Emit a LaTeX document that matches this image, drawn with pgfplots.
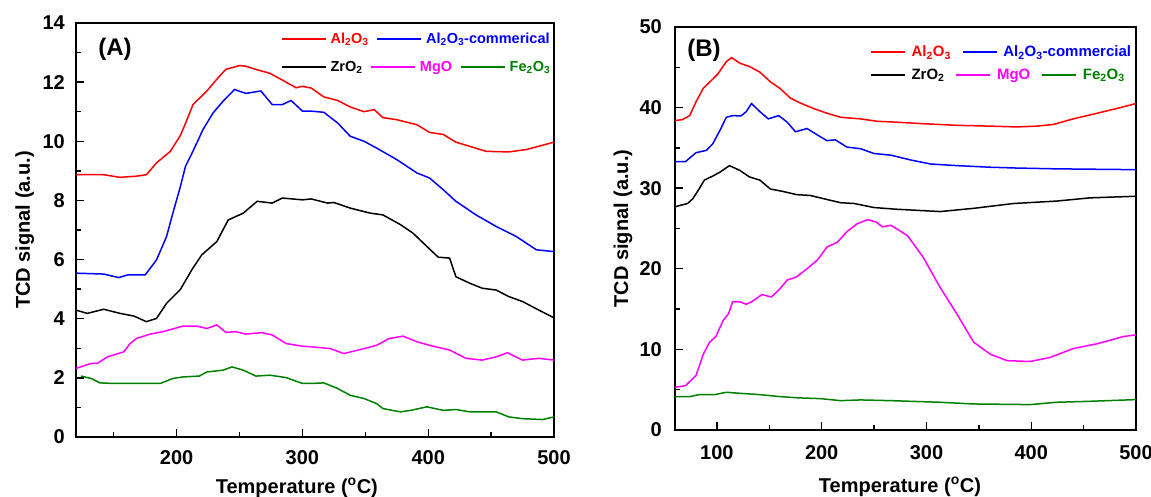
\documentclass[border=0pt]{standalone}
\usepackage{fontspec}
\setmainfont{Liberation Sans}
\usepackage{pgfplots}
\pgfplotsset{compat=1.18}
\newcommand\fs[1]{\fontsize{#1}{#1}\selectfont}
\definecolor{cred}{RGB}{255,0,0}
\definecolor{cblue}{RGB}{0,0,255}
\definecolor{cmag}{RGB}{255,0,255}
\definecolor{cgreen}{RGB}{0,128,0}
\pgfplotsset{
  base/.style={
    scale only axis,
    axis line style={line width=1.6pt},
    tick align=inside,
    tick pos=left,
    major tick length=8pt,
    minor tick length=5pt,
    tick style={black, line width=1.4pt},
    /pgf/number format/assume math mode=true,
    tick label style={font=\fs{20}\bfseries, inner sep=0pt},
    every axis plot/.append style={line width=1.5pt, mark=none},
  },
  legA/.style={
    legend columns=-1,
    legend cell align=left,
    legend image code/.code={\draw[##1,line width=1.5pt] (0pt,0pt) -- (44pt,0pt);},
    legend style={draw=none, fill=none, inner sep=0pt, outer sep=0pt, font=\fs{14.5}\bfseries,
      nodes={inner sep=1pt},
      /tikz/every odd column/.append style={column sep=3pt},
      /tikz/every even column/.append style={column sep=7pt}},
  },
  legB/.style={
    legend columns=-1,
    legend cell align=left,
    legend image code/.code={\draw[##1,line width=1.5pt] (0pt,0pt) -- (34pt,0pt);},
    legend style={draw=none, fill=none, inner sep=0pt, outer sep=0pt, font=\fs{15}\bfseries,
      nodes={inner sep=1pt},
      /tikz/every odd column/.append style={column sep=5pt},
      /tikz/every even column/.append style={column sep=10pt}},
  },
}
\begin{document}
\begin{tikzpicture}
\useasboundingbox (0,0) rectangle (1151pt,497pt);
% ---------------- Panel A ----------------
\begin{axis}[base, at={(76pt,60pt)}, anchor=south west, width=478pt, height=414pt,
  xmin=120, xmax=500, ymin=0, ymax=14,
  xtick={200,300,400,500}, minor xtick={150,250,350,450},
  ytick={0,2,...,14}, minor ytick={1,3,...,13},
  xticklabel shift=13pt, yticklabel shift=11pt,
  xlabel={Temperature (\textsuperscript{o}C)}, ylabel={TCD signal (a.u.)},
  every axis x label/.style={at={(axis description cs:0.462,-0.123)}, anchor=center, font=\fs{20}\bfseries},
  every axis y label/.style={at={(axis description cs:-0.107,0.5)}, rotate=90, anchor=center, font=\fs{20}\bfseries},
  legA, legend style={at={(0.429,0.961)}, anchor=west}]
\addplot[cred] coordinates {(120,8.87)(130,8.87)(142,8.87)(155,8.78)(168,8.82)(176,8.87)(184,9.27)(195,9.66)(203,10.2)(207,10.6)(213,11.24)(224,11.7)(232,12.1)(239,12.43)(250,12.56)(255,12.54)(263,12.43)(274,12.3)(284,12.07)(295,11.81)(300,11.86)(307,11.8)(317,11.5)(328,11.38)(338,11.16)(349,11.0)(357,11.07)(364,10.8)(375,10.73)(391,10.56)(401,10.3)(412,10.23)(422,9.97)(433,9.83)(446,9.66)(464,9.64)(478,9.72)(500,9.97)};
\addlegendentry{\textcolor{cred}{Al\textsubscript{2}O\textsubscript{3}}}
\addplot[cblue] coordinates {(120,5.54)(142,5.51)(154,5.39)(161,5.48)(175,5.48)(184,5.99)(192,6.78)(197,7.57)(203,8.47)(207,9.15)(211,9.49)(216,9.94)(221,10.4)(229,10.96)(237,11.36)(246,11.75)(255,11.62)(267,11.7)(276,11.24)(284,11.24)(291,11.38)(300,11.02)(307,11.02)(317,10.98)(328,10.62)(338,10.17)(349,10.0)(359,9.77)(375,9.38)(391,8.93)(401,8.76)(412,8.36)(422,7.97)(438,7.51)(454,7.12)(470,6.78)(486,6.33)(500,6.27)};
\addlegendentry{\textcolor{cblue}{Al\textsubscript{2}O\textsubscript{3}-commerical}}
\addplot[black] coordinates {(120,4.29)(129,4.18)(142,4.32)(155,4.18)(166,4.09)(176,3.9)(184,4.01)(192,4.52)(203,4.99)(212,5.65)(220,6.16)(232,6.61)(241,7.34)(253,7.57)(264,7.97)(276,7.91)(284,8.08)(300,8.02)(307,8.05)(320,7.91)(325,7.93)(338,7.74)(354,7.57)(364,7.51)(378,7.18)(388,6.89)(399,6.44)(408,6.08)(417,6.05)(422,5.42)(433,5.2)(443,5.03)(454,4.97)(464,4.75)(475,4.58)(488,4.29)(500,4.03)};
\addplot[cmag] coordinates {(120,2.32)(132,2.49)(137,2.49)(145,2.71)(158,2.88)(163,3.16)(168,3.33)(179,3.48)(189,3.56)(205,3.75)(216,3.75)(224,3.67)(232,3.79)(239,3.54)(247,3.56)(255,3.48)(268,3.53)(276,3.45)(287,3.16)(300,3.07)(307,3.05)(322,2.99)(333,2.82)(349,2.99)(359,3.1)(369,3.33)(380,3.41)(391,3.22)(401,3.1)(417,2.94)(430,2.66)(443,2.6)(454,2.71)(463,2.85)(475,2.6)(488,2.66)(500,2.6)};
\addplot[cgreen] coordinates {(124,2.06)(132,1.98)(139,1.83)(150,1.81)(168,1.81)(187,1.81)(197,1.98)(205,2.03)(218,2.06)(224,2.2)(237,2.26)(244,2.37)(253,2.26)(263,2.06)(274,2.09)(287,2.01)(300,1.81)(307,1.81)(317,1.83)(328,1.64)(338,1.41)(349,1.3)(359,1.13)(364,0.96)(378,0.85)(386,0.9)(399,1.02)(412,0.9)(422,0.93)(433,0.85)(454,0.85)(464,0.68)(475,0.62)(491,0.59)(500,0.68)};
\node[font=\fs{24}\bfseries] at (axis description cs:0.0816,0.937) {(A)};
\end{axis}
\begin{axis}[hide axis, scale only axis, at={(76pt,60pt)}, anchor=south west, width=478pt, height=414pt,
  xmin=0, xmax=1, ymin=0, ymax=1,
  legA, legend style={at={(0.429,0.894)}, anchor=west}]
\addlegendimage{black}\addlegendentry{ZrO\textsubscript{2}}
\addlegendimage{cmag}\addlegendentry{\textcolor{cmag}{MgO}}
\addlegendimage{cgreen}\addlegendentry{\textcolor{cgreen}{Fe\textsubscript{2}O\textsubscript{3}}}
\end{axis}
% ---------------- Panel B ----------------
\begin{axis}[base, at={(675pt,67pt)}, anchor=south west, width=461pt, height=403pt,
  xmin=60, xmax=500, ymin=0, ymax=50,
  xtick={100,200,300,400,500}, minor xtick={150,250,350,450},
  ytick={0,10,...,50}, minor ytick={5,15,...,45},
  xticklabel shift=15pt, yticklabel shift=13pt,
  xlabel={Temperature (\textsuperscript{o}C)}, ylabel={TCD signal (a.u.)},
  every axis x label/.style={at={(axis description cs:0.488,-0.141)}, anchor=center, font=\fs{20}\bfseries},
  every axis y label/.style={at={(axis description cs:-0.113,0.5)}, rotate=90, anchor=center, font=\fs{20}\bfseries},
  legB, legend style={at={(0.423,0.938)}, anchor=west}]
\addplot[cred] coordinates {(60,38.4)(67,38.5)(74,39.0)(80,40.7)(87,42.4)(95,43.4)(101,44.2)(109,45.7)(114,46.2)(122,45.5)(131,45.1)(141,44.4)(151,43.2)(160,42.4)(170,41.2)(179,40.6)(192,39.9)(205,39.3)(218,38.8)(237,38.6)(253,38.3)(270,38.2)(297,38.0)(329,37.8)(361,37.7)(386,37.6)(405,37.7)(421,37.9)(440,38.6)(463,39.3)(482,39.9)(500,40.5)};
\addlegendentry{\textcolor{cred}{Al\textsubscript{2}O\textsubscript{3}}}
\addplot[cblue] coordinates {(60,33.3)(70,33.3)(80,34.4)(90,34.7)(96,35.5)(103,37.2)(109,38.8)(115,39.0)(123,38.97)(128,39.5)(133,40.5)(141,39.5)(149,38.6)(159,39.0)(167,38.2)(175,37.0)(186,37.4)(196,36.6)(205,35.9)(213,36.0)(224,35.1)(237,34.9)(250,34.3)(266,34.1)(285,33.5)(304,33.0)(329,32.8)(361,32.6)(386,32.5)(424,32.4)(500,32.3)};
\addlegendentry{\textcolor{cblue}{Al\textsubscript{2}O\textsubscript{3}-commercial}}
\addplot[black] coordinates {(60,27.7)(72,28.1)(77,28.7)(82,29.7)(88,31.0)(96,31.5)(103,32.0)(112,32.8)(122,32.2)(131,31.4)(141,31.0)(151,29.9)(163,29.6)(176,29.2)(189,29.1)(205,28.6)(218,28.2)(231,28.1)(250,27.6)(270,27.4)(313,27.1)(345,27.5)(383,28.1)(424,28.4)(456,28.8)(500,29.0)};
\addplot[cmag] coordinates {(60,5.3)(70,5.5)(80,6.75)(87,9.4)(93,10.9)(99,11.6)(106,13.6)(111,14.4)(115,15.9)(122,15.9)(128,15.6)(133,15.9)(143,16.8)(152,16.5)(160,17.5)(167,18.6)(176,19.0)(186,20.0)(196,21.1)(205,22.7)(215,23.3)(224,24.6)(234,25.6)(244,26.1)(252,25.8)(258,25.2)(266,25.4)(276,24.6)(282,24.1)(297,21.4)(313,17.7)(329,14.4)(345,10.9)(361,9.4)(377,8.6)(399,8.5)(418,9.0)(440,10.1)(463,10.7)(488,11.6)(500,11.8)};
\addplot[cgreen] coordinates {(60,4.14)(74,4.14)(83,4.39)(98,4.39)(109,4.68)(122,4.55)(141,4.39)(160,4.14)(179,3.98)(199,3.89)(218,3.64)(237,3.73)(266,3.64)(313,3.44)(345,3.23)(399,3.15)(424,3.44)(456,3.56)(500,3.77)};
\node[font=\fs{24}\bfseries] at (axis description cs:0.063,0.943) {(B)};
\end{axis}
\begin{axis}[hide axis, scale only axis, at={(675pt,67pt)}, anchor=south west, width=461pt, height=403pt,
  xmin=0, xmax=1, ymin=0, ymax=1,
  legB, legend style={at={(0.423,0.881)}, anchor=west}]
\addlegendimage{black}\addlegendentry{ZrO\textsubscript{2}}
\addlegendimage{cmag}\addlegendentry{\textcolor{cmag}{MgO}}
\addlegendimage{cgreen}\addlegendentry{\textcolor{cgreen}{Fe\textsubscript{2}O\textsubscript{3}}}
\end{axis}
\end{tikzpicture}
\end{document}
